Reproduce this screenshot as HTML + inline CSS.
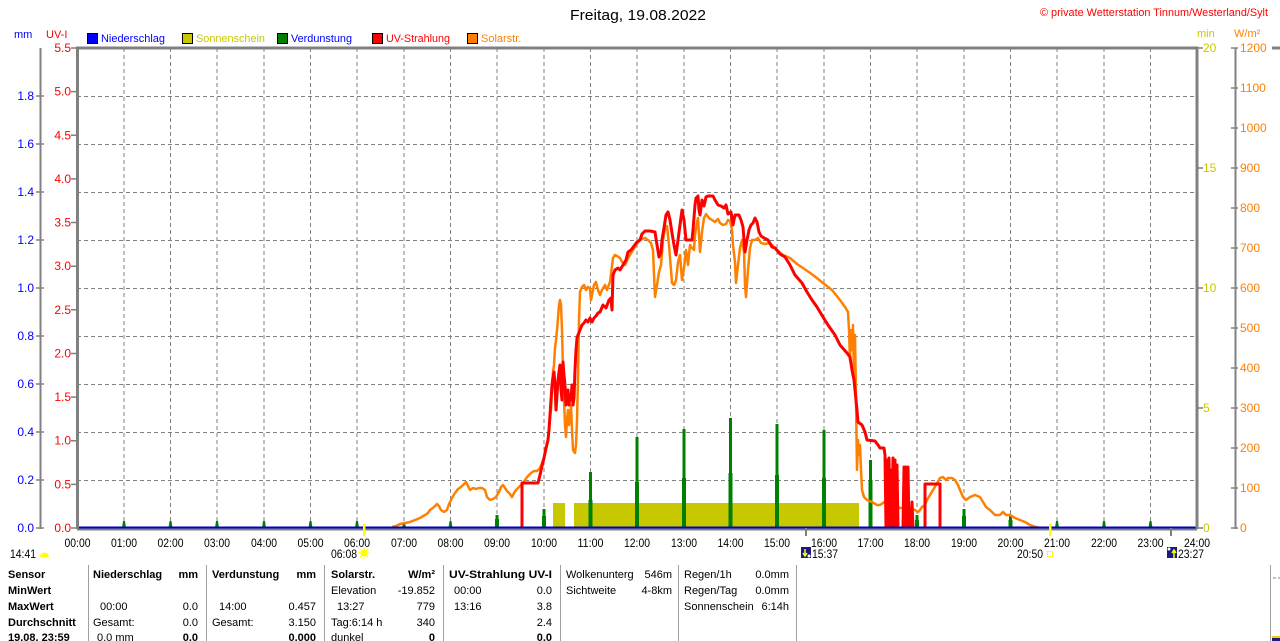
<!DOCTYPE html>
<html><head><meta charset="utf-8"><style>
html,body{margin:0;padding:0;background:#fff;}
svg{display:block;}
text{font-family:"Liberation Sans",Arial,sans-serif;}
</style></head><body>
<svg width="1280" height="641" viewBox="0 0 1280 641" xmlns="http://www.w3.org/2000/svg">
<rect width="1280" height="641" fill="#fff"/>
<!-- title -->
<text x="638" y="20" font-size="15" text-anchor="middle" textLength="136" lengthAdjust="spacingAndGlyphs">Freitag, 19.08.2022</text>
<text x="1268" y="16" font-size="11" fill="#ff0000" text-anchor="end" textLength="228" lengthAdjust="spacingAndGlyphs">© private Wetterstation Tinnum/Westerland/Sylt</text>
<!-- legend -->
<text x="14" y="38" font-size="11" fill="#0000ff">mm</text>
<text x="46" y="38" font-size="11" fill="#ff0000">UV-I</text>
<rect x="87.5" y="33.5" width="10" height="10" fill="#0000ff" stroke="#000"/>
<text x="101" y="42" font-size="11" fill="#0000ff" textLength="64" lengthAdjust="spacingAndGlyphs">Niederschlag</text>
<rect x="182.5" y="33.5" width="10" height="10" fill="#c8c800" stroke="#000"/>
<text x="196" y="42" font-size="11" fill="#c8c800" textLength="69" lengthAdjust="spacingAndGlyphs">Sonnenschein</text>
<rect x="277.5" y="33.5" width="10" height="10" fill="#008000" stroke="#000"/>
<text x="291" y="42" font-size="11" fill="#0000ff" textLength="61" lengthAdjust="spacingAndGlyphs">Verdunstung</text>
<rect x="372.5" y="33.5" width="10" height="10" fill="#ff0000" stroke="#000"/>
<text x="386" y="42" font-size="11" fill="#ff0000" textLength="64" lengthAdjust="spacingAndGlyphs">UV-Strahlung</text>
<rect x="467.5" y="33.5" width="10" height="10" fill="#ff8000" stroke="#000"/>
<text x="481" y="42" font-size="11" fill="#ff8000">Solarstr.</text>
<text x="1197" y="37" font-size="11" fill="#c8c800">min</text>
<text x="1234" y="37" font-size="11" fill="#ff8000">W/m²</text>

<!-- grid -->
<g stroke="#808080" stroke-width="1" stroke-dasharray="4,3" fill="none">
<path d="M77 96.5H1197M77 144.5H1197M77 192.5H1197M77 240.5H1197M77 288.5H1197M77 336.5H1197M77 384.5H1197M77 432.5H1197M77 480.5H1197"/>
<path d="M124 48V528M170.5 48V528M217 48V528M264 48V528M310.5 48V528M357 48V528M404 48V528M450.5 48V528M497 48V528M544 48V528M590.5 48V528M637 48V528M684 48V528M730.5 48V528M777 48V528M824 48V528M870.5 48V528M917 48V528M964 48V528M1010.5 48V528M1057 48V528M1104 48V528M1150.5 48V528"/>
</g>

<!-- left mm axis -->
<g stroke="#808080" stroke-width="2">
<line x1="40.5" y1="48" x2="40.5" y2="529"/>
<path d="M36 528H44M36 480H44M36 432H44M36 384H44M36 336H44M36 288H44M36 240H44M36 192H44M36 144H44M36 96H44" stroke-width="1.5"/>
</g>
<g font-size="12" fill="#0000ff" text-anchor="end">
<text x="34" y="532">0.0</text><text x="34" y="484">0.2</text><text x="34" y="436">0.4</text><text x="34" y="388">0.6</text><text x="34" y="340">0.8</text><text x="34" y="292">1.0</text><text x="34" y="244">1.2</text><text x="34" y="196">1.4</text><text x="34" y="148">1.6</text><text x="34" y="100">1.8</text>
</g>
<!-- UV axis -->
<g stroke="#808080" stroke-width="1.5">
<path d="M71 528H77M71 484.4H77M71 440.7H77M71 397.1H77M71 353.5H77M71 309.8H77M71 266.2H77M71 222.5H77M71 178.9H77M71 135.3H77M71 91.6H77M71 48H77"/>
</g>
<g font-size="12" fill="#ff0000" text-anchor="end">
<text x="71" y="532">0.0</text><text x="71" y="488.4">0.5</text><text x="71" y="444.7">1.0</text><text x="71" y="401.1">1.5</text><text x="71" y="357.5">2.0</text><text x="71" y="313.8">2.5</text><text x="71" y="270.2">3.0</text><text x="71" y="226.5">3.5</text><text x="71" y="182.9">4.0</text><text x="71" y="139.3">4.5</text><text x="71" y="95.6">5.0</text><text x="71" y="52">5.5</text>
</g>
<!-- right min axis -->
<g stroke="#808080" stroke-width="1.5"><path d="M1197 528H1203M1197 408H1203M1197 288H1203M1197 168H1203M1197 48H1203"/></g>
<g font-size="12" fill="#c8c800">
<text x="1203" y="532">0</text><text x="1203" y="412">5</text><text x="1203" y="292">10</text><text x="1203" y="172">15</text><text x="1203" y="52">20</text>
</g>
<!-- W/m2 axis -->
<g stroke="#808080">
<line x1="1235.5" y1="48" x2="1235.5" y2="529" stroke-width="2"/>
<path stroke-width="1.5" d="M1231 528H1238M1231 488H1238M1231 448H1238M1231 408H1238M1231 368H1238M1231 328H1238M1231 288H1238M1231 248H1238M1231 208H1238M1231 168H1238M1231 128H1238M1231 88H1238M1231 48H1238"/>
<line x1="1272" y1="48" x2="1280" y2="48" stroke-width="3"/>
</g>
<g font-size="12" fill="#ff8000">
<text x="1240" y="532">0</text><text x="1240" y="492">100</text><text x="1240" y="452">200</text><text x="1240" y="412">300</text><text x="1240" y="372">400</text><text x="1240" y="332">500</text><text x="1240" y="292">600</text><text x="1240" y="252">700</text><text x="1240" y="212">800</text><text x="1240" y="172">900</text><text x="1240" y="132">1000</text><text x="1240" y="92">1100</text><text x="1240" y="52">1200</text>
</g>

<!-- sunshine bars -->
<rect x="553" y="503" width="12" height="25" fill="#c8c800"/>
<rect x="574" y="503" width="285" height="25" fill="#c8c800"/>

<!-- evaporation spikes -->
<g fill="#008000">
<path d="M122 528L123 521H125L126 528Z M168.5 528L169.5 521H171.5L172.5 528Z M215 528L216 521H218L219 528Z M262 528L263 521H265L266 528Z M308.5 528L309.5 521H311.5L312.5 528Z M355 528L356 521H358L359 528Z M402 528L403 522H405L406 528Z M448.5 528L449.5 521H451.5L452.5 528Z"/>
<rect x="495.5" y="515" width="3" height="13"/><rect x="495" y="519" width="4" height="9"/>
<rect x="542.5" y="509" width="3" height="19"/><rect x="542" y="516" width="4" height="12"/>
<rect x="589" y="472" width="3" height="56"/><rect x="588.5" y="500" width="4" height="28"/>
<rect x="635.5" y="437" width="3" height="91"/><rect x="635" y="482" width="4" height="46"/>
<rect x="682.5" y="429" width="3" height="99"/><rect x="682" y="478" width="4" height="50"/>
<rect x="729" y="418" width="3" height="110"/><rect x="728.5" y="473" width="4" height="55"/>
<rect x="775.5" y="424" width="3" height="104"/><rect x="775" y="475" width="4" height="53"/>
<rect x="822.5" y="430" width="3" height="98"/><rect x="822" y="478" width="4" height="50"/>
<rect x="869" y="460" width="3" height="68"/><rect x="868.5" y="480" width="4" height="48"/>
<rect x="915.5" y="515" width="3" height="13"/><rect x="915" y="520" width="4" height="8"/>
<rect x="962.5" y="509" width="3" height="19"/><rect x="962" y="516" width="4" height="12"/>
<rect x="1009" y="515" width="3" height="13"/><rect x="1008.5" y="520" width="4" height="8"/>
<path d="M1055 528L1056 521H1058L1059 528Z M1102 528L1103 521H1105L1106 528Z M1148.5 528L1149.5 521H1151.5L1152.5 528Z"/>
</g>

<!-- solar (orange) -->
<polyline fill="none" stroke="#ff8000" stroke-width="2.5" stroke-linejoin="round" points="392,527 396,526 400,524 405,523 410,522 415,520 420,518 425,515 428,513 430,510 434,507 437,504 439,506 441,510 444,512 447,510 449,504 452,498 455,493 458,489 461,487 463,485 466,482 468,486 470,490 473,488 476,489 479,488 482,488 485,490 487,497 490,500 493,499 496,497 499,492 501,487 503,485 505,488 507,491 510,494 512,497 514,493 516,490 519,487 522,484 525,480 528,476 531,473 534,471 537,471 540,468 542,463 544,458 546,450 548,440 549,430 550,418 551,410 552,390 553,372 554,365 555,348 556,340 557,330 558,318 559,305 560,300 561,305 562,330 563,370 564,400 565,425 566,437 567,420 568,410 569,425 570,418 571,405 572,430 573,450 575,453 576,445 577,420 578,380 579,320 580,292 582,287 584,285 586,290 588,287 590,289 591,300 592,295 594,285 596,282 598,290 600,295 602,290 605,285 607,290 610,282 613,258 615,255 617,256 620,258 622,262 625,265 628,258 630,255 633,250 636,245 640,240 645,238 648,240 651,243 653,250 654,275 655,297 657,285 659,272 661,265 663,240 665,228 667,226 669,245 671,270 672,283 674,285 676,280 678,262 680,255 682,280 684,268 686,250 688,265 690,245 692,248 694,250 695,235 697,222 698,218 700,252 702,232 704,218 706,214 709,218 712,220 715,222 718,219 720,223 723,225 726,224 728,220 730,221 732,230 733,245 735,262 736,283 738,265 740,248 742,240 744,252 745,285 746,297 748,270 750,248 752,240 755,240 758,238 761,243 765,244 770,243 777,250 783,255 790,258 797,264 803,268 813,275 823,283 832,290 840,300 845,307 848,312 849,330 850,360 851,330 852,350 853,325 854,380 855,335 856,400 857,470 858,440 859,455 860,445 861,470 862,490 864,497 867,500 872,502 877,505 880,505 883,503 887,500 890,500 893,503 896,506 900,508 905,508 910,508 915,510 918,512 920,510 922,507 925,505 927,500 930,495 933,490 936,485 940,478 943,477 946,480 948,478 952,478 955,480 958,485 960,490 963,497 966,500 970,497 975,495 980,497 983,502 986,507 990,510 995,515 1000,515 1003,512 1006,515 1010,515 1015,518 1020,520 1025,522 1030,525 1036,527 1040,528"/>

<!-- UV (red) -->
<polyline fill="none" stroke="#ff0000" stroke-width="3" stroke-linejoin="round" points="522,528 522,483 538,483 540,475 542,466 544,458 546,448 548,440 549,430 550,415 551,400 552,385 553,377 554,372 555,385 556,410 557,395 558,380 559,372 560,365 561,390 562,400 563,362 564,375 565,385 566,405 567,395 568,390 569,405 570,395 571,400 572,385 573,405 574,398 575,370 576,350 577,338 578,335 580,330 582,325 584,323 586,320 588,322 590,318 592,322 594,318 596,316 598,313 600,312 603,305 606,308 609,300 611,298 612,310 613,275 615,270 618,268 620,270 623,265 626,260 628,252 631,250 634,246 637,242 640,240 642,234 645,231 650,231 655,232 657,245 659,257 661,252 662,240 664,228 666,215 668,212 670,220 672,233 674,245 676,255 678,240 680,225 682,210 684,220 686,240 688,240 692,240 693,230 695,205 696,198 698,196 699,210 700,215 702,200 704,206 706,197 708,196 713,196 715,200 718,205 721,206 724,208 726,205 728,214 731,212 733,225 735,215 739,215 741,220 743,227 744,240 745,252 747,240 749,230 751,225 753,223 755,218 757,222 759,232 761,236 764,238 768,240 772,247 775,248 780,254 785,257 790,265 795,275 802,283 807,292 812,300 817,307 823,317 828,325 835,335 840,345 847,353 850,357 852,370 854,380 856,400 857,410 858,422 862,425 865,432 867,440 875,441 878,445 880,448 884,448 885,455 886,528 887,460 888,528 889,458 890,528 891,470 892,528 893,458 894,528 895,460 896,528 897,465 898,528 900,528 903,528 904,467 905,528 906,467 907,528 908,467 909,528 911,528 912,502 913,528 925,528 925,484 940,484 940,528"/>

<!-- baseline -->
<line x1="77" y1="529.5" x2="1197" y2="529.5" stroke="#808080" stroke-width="2"/>
<line x1="77" y1="527.5" x2="1197" y2="527.5" stroke="#0000c0" stroke-width="2"/>

<!-- borders -->
<g stroke="#808080" stroke-width="3" fill="none">
<path d="M77.5 529V48H1197V529"/>
</g>

<!-- markers on x axis -->
<rect x="363" y="524" width="2.5" height="12" fill="#ffff00"/>
<rect x="1049" y="524" width="2.5" height="12" fill="#ffff00"/>
<rect x="805" y="528" width="2" height="8" fill="#808080"/>
<rect x="1170" y="528" width="2" height="8" fill="#808080"/>

<!-- x labels -->
<g font-size="12" text-anchor="middle">
<text x="77.5" y="547" textLength="26" lengthAdjust="spacingAndGlyphs">00:00</text>
<text x="124" y="547" textLength="26" lengthAdjust="spacingAndGlyphs">01:00</text>
<text x="170.5" y="547" textLength="26" lengthAdjust="spacingAndGlyphs">02:00</text>
<text x="217" y="547" textLength="26" lengthAdjust="spacingAndGlyphs">03:00</text>
<text x="264" y="547" textLength="26" lengthAdjust="spacingAndGlyphs">04:00</text>
<text x="310.5" y="547" textLength="26" lengthAdjust="spacingAndGlyphs">05:00</text>
<text x="357" y="547" textLength="26" lengthAdjust="spacingAndGlyphs">06:00</text>
<text x="404" y="547" textLength="26" lengthAdjust="spacingAndGlyphs">07:00</text>
<text x="450.5" y="547" textLength="26" lengthAdjust="spacingAndGlyphs">08:00</text>
<text x="497" y="547" textLength="26" lengthAdjust="spacingAndGlyphs">09:00</text>
<text x="544" y="547" textLength="26" lengthAdjust="spacingAndGlyphs">10:00</text>
<text x="590.5" y="547" textLength="26" lengthAdjust="spacingAndGlyphs">11:00</text>
<text x="637" y="547" textLength="26" lengthAdjust="spacingAndGlyphs">12:00</text>
<text x="684" y="547" textLength="26" lengthAdjust="spacingAndGlyphs">13:00</text>
<text x="730.5" y="547" textLength="26" lengthAdjust="spacingAndGlyphs">14:00</text>
<text x="777" y="547" textLength="26" lengthAdjust="spacingAndGlyphs">15:00</text>
<text x="824" y="547" textLength="26" lengthAdjust="spacingAndGlyphs">16:00</text>
<text x="870.5" y="547" textLength="26" lengthAdjust="spacingAndGlyphs">17:00</text>
<text x="917" y="547" textLength="26" lengthAdjust="spacingAndGlyphs">18:00</text>
<text x="964" y="547" textLength="26" lengthAdjust="spacingAndGlyphs">19:00</text>
<text x="1010.5" y="547" textLength="26" lengthAdjust="spacingAndGlyphs">20:00</text>
<text x="1057" y="547" textLength="26" lengthAdjust="spacingAndGlyphs">21:00</text>
<text x="1104" y="547" textLength="26" lengthAdjust="spacingAndGlyphs">22:00</text>
<text x="1150.5" y="547" textLength="26" lengthAdjust="spacingAndGlyphs">23:00</text>
<text x="1197" y="547" textLength="26" lengthAdjust="spacingAndGlyphs">24:00</text>
</g>

<!-- sun/moon times -->
<g font-size="12">
<text x="10" y="558" textLength="26" lengthAdjust="spacingAndGlyphs">14:41</text>
<path d="M40 557A4.5 4.5 0 0 1 49 557Z" fill="#ffff00"/>
<text x="331" y="558" textLength="26" lengthAdjust="spacingAndGlyphs">06:08</text>
<circle cx="364" cy="553" r="3.5" fill="#ffff00"/>
<path d="M364 547V559M358 553H370M360 549L368 557M368 549L360 557" stroke="#ffff00" stroke-width="1"/>
<rect x="801" y="547" width="10" height="11" fill="#1a1a80"/>
<path d="M805 549V555M803 553L805 556L807 553" stroke="#ffff00" stroke-width="1.5" fill="none"/>
<circle cx="809" cy="556" r="1.5" fill="#fff"/>
<text x="812" y="558" textLength="26" lengthAdjust="spacingAndGlyphs">15:37</text>
<text x="1017" y="558" textLength="26" lengthAdjust="spacingAndGlyphs">20:50</text>
<rect x="1047.5" y="551.5" width="5" height="5" fill="none" stroke="#ffff00"/>
<rect x="1167" y="547" width="10" height="11" fill="#1a1a80"/>
<path d="M1174 558V551M1172 553L1174 550L1176 553" stroke="#ffff00" stroke-width="1.5" fill="none"/>
<circle cx="1169" cy="549" r="1.5" fill="#fff"/>
<text x="1178" y="558" textLength="26" lengthAdjust="spacingAndGlyphs">23:27</text>
</g>

<!-- table separators -->
<g stroke="#a0a0a0" stroke-width="1">
<path d="M88.5 565V641M206.5 565V641M324.5 565V641M443.5 565V641M560.5 565V641M678.5 565V641M796.5 565V641M1270.5 565V641"/>
</g>
<path d="M1273 578H1276M1278 578H1280" stroke="#808080"/>
<rect x="1272" y="636" width="8" height="2" fill="#ffcc00"/>
<rect x="1272" y="638" width="8" height="3" fill="#1a1a80"/>

<!-- table text -->
<g font-size="11" fill="#000">
<g font-weight="bold">
<text x="8" y="578">Sensor</text>
<text x="8" y="594">MinWert</text>
<text x="8" y="610">MaxWert</text>
<text x="8" y="626">Durchschnitt</text>
<text x="8" y="641">19.08. 23:59</text>
<text x="93" y="578">Niederschlag</text>
<text x="198" y="578" text-anchor="end">mm</text>
<text x="212" y="578">Verdunstung</text>
<text x="316" y="578" text-anchor="end">mm</text>
<text x="331" y="578">Solarstr.</text>
<text x="435" y="578" text-anchor="end">W/m²</text>
<text x="449" y="578" textLength="103" lengthAdjust="spacingAndGlyphs">UV-Strahlung UV-I</text>
<text x="198" y="641" text-anchor="end">0.0</text>
<text x="316" y="641" text-anchor="end">0.000</text>
<text x="435" y="641" text-anchor="end">0</text>
<text x="552" y="641" text-anchor="end">0.0</text>
</g>
<text x="100" y="610">00:00</text>
<text x="198" y="610" text-anchor="end">0.0</text>
<text x="93" y="626">Gesamt:</text>
<text x="198" y="626" text-anchor="end">0.0</text>
<text x="97" y="641">0.0 mm</text>
<text x="219" y="610">14:00</text>
<text x="316" y="610" text-anchor="end">0.457</text>
<text x="212" y="626">Gesamt:</text>
<text x="316" y="626" text-anchor="end">3.150</text>
<text x="331" y="594">Elevation</text>
<text x="435" y="594" text-anchor="end">-19.852</text>
<text x="337" y="610">13:27</text>
<text x="435" y="610" text-anchor="end">779</text>
<text x="331" y="626">Tag:6:14 h</text>
<text x="435" y="626" text-anchor="end">340</text>
<text x="331" y="641">dunkel</text>
<text x="454" y="594">00:00</text>
<text x="552" y="594" text-anchor="end">0.0</text>
<text x="454" y="610">13:16</text>
<text x="552" y="610" text-anchor="end">3.8</text>
<text x="552" y="626" text-anchor="end">2.4</text>
<text x="566" y="578">Wolkenunterg</text>
<text x="672" y="578" text-anchor="end">546m</text>
<text x="566" y="594">Sichtweite</text>
<text x="672" y="594" text-anchor="end">4-8km</text>
<text x="684" y="578">Regen/1h</text>
<text x="789" y="578" text-anchor="end">0.0mm</text>
<text x="684" y="594">Regen/Tag</text>
<text x="789" y="594" text-anchor="end">0.0mm</text>
<text x="684" y="610">Sonnenschein</text>
<text x="789" y="610" text-anchor="end">6:14h</text>
</g>
</svg>
</body></html>
